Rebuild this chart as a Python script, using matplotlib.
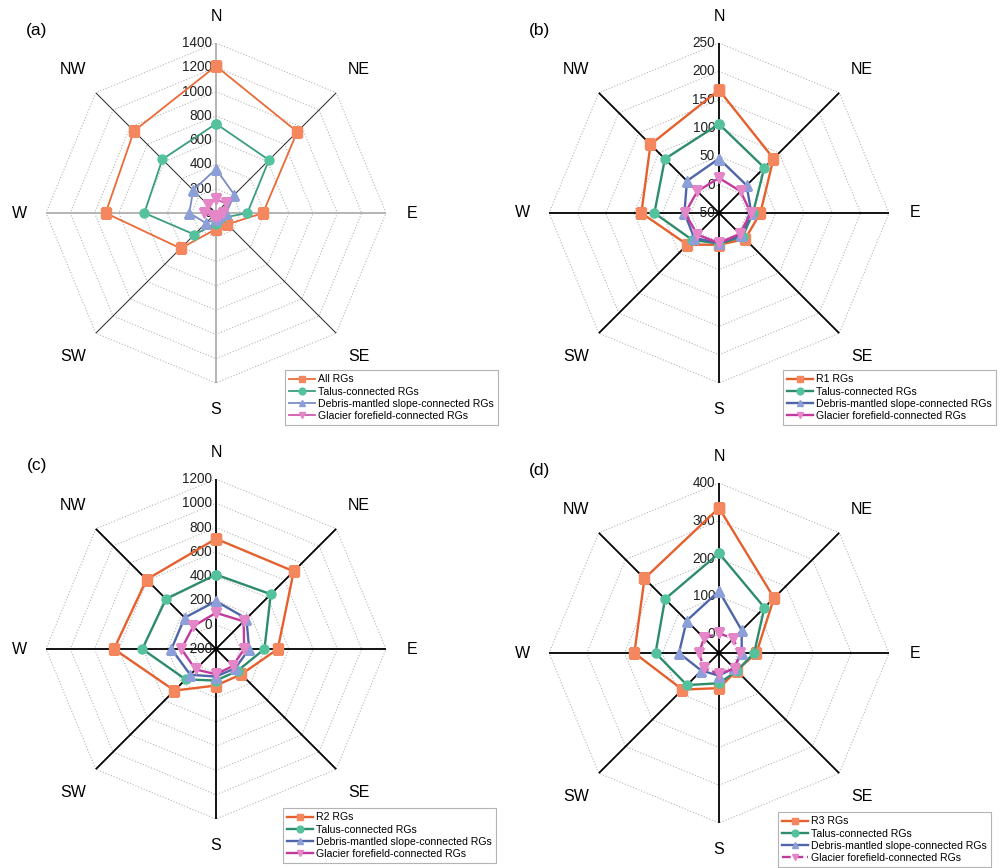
import numpy as np
import matplotlib
matplotlib.use('Agg')
import matplotlib.pyplot as plt
from matplotlib.transforms import offset_copy

plt.rcParams['font.family'] = ['Liberation Sans', 'DejaVu Sans']

directions = ['N', 'NE', 'E', 'SE', 'S', 'SW', 'W', 'NW']

# (a) all rock glaciers
a_all = [1210, 946, 387, 132, 132, 412, 909, 955]
a_talus = [735, 617, 258, 60, 88, 251, 590, 625]
a_debris = [362, 213, 85, 40, 50, 117, 220, 266]
a_glacier = [112, 113, 60, 30, 30, 35, 102, 89]

# (b) R1
b_all = [167, 86, 23, 15, 6, 29, 87, 121]
b_talus = [107, 63, 10, 9, 4, 17, 64, 85]
b_debris = [46, 19, 7, 6, 3, 12, 11, 30]
b_glacier = [12, 4, 6, 2, 3, 4, 10, 4]

# (c) R2
c_all = [708, 705, 309, 95, 101, 284, 640, 609]
c_talus = [413, 438, 199, 53, 60, 154, 407, 382]
c_debris = [194, 154, 73, 24, 27, 100, 167, 165]
c_glacier = [98, 122, 32, -3, 8, 38, 85, 65]

# (d) R3
d_all = [334, 156, 49, 16, 43, 87, 174, 229]
d_talus = [214, 120, 43, 17, 30, 70, 118, 152]
d_debris = [114, 35, 10, 6, 10, 16, 56, 71]
d_glacier = [3, 3, 5, 9, 5, 7, 3, 6]

panels = [
    dict(tag='(a)', center=(216, 213), rmin=0, rmax=1400, rings=list(range(0, 1401, 200)),
         labels=list(range(0, 1401, 200)), first='All RGs',
         series=[a_all, a_talus, a_debris, a_glacier], legend=(285, 370), light=True),
    dict(tag='(b)', center=(719, 213), rmin=-50, rmax=250, rings=list(range(-50, 251, 50)),
         labels=list(range(-50, 251, 50)), first='R1 RGs',
         series=[b_all, b_talus, b_debris, b_glacier], legend=(783, 370), light=False),
    dict(tag='(c)', center=(216, 649), rmin=-200, rmax=1200, rings=list(range(-200, 1201, 200)),
         labels=list(range(-200, 1201, 200)), first='R2 RGs',
         series=[c_all, c_talus, c_debris, c_glacier], legend=(283, 808), light=False),
    dict(tag='(d)', center=(719, 653), rmin=-50, rmax=400, rings=list(range(0, 401, 100)),
         labels=list(range(0, 401, 100)), first='R3 RGs',
         series=[d_all, d_talus, d_debris, d_glacier], legend=(778, 812), light=False,
         dashed=True),
]

names = ['Talus-connected RGs', 'Debris-mantled slope-connected RGs',
         'Glacier forefield-connected RGs']
line_cols = ['#E5602C', '#2E8C6C', '#4F65A8', '#C23A9C']
line_cols_light = ['#EA6A38', '#3A9E7E', '#7D8DC2', '#D05AAE']
marker_cols = ['#F4875E', '#55C29E', '#8C9FD8', '#E486C8']
markers = ['s', 'o', '^', 'v']

W, H = 1000, 868
R = 170
fig = plt.figure(figsize=(W / 100, H / 100), dpi=100)

theta = np.deg2rad(np.arange(8) * 45)
theta_c = np.append(theta, theta[0])

for p in panels:
    cx, cy = p['center']
    rect = [(cx - R) / W, 1 - (cy + R) / H, 2 * R / W, 2 * R / H]
    ax = fig.add_axes(rect, projection='polar')
    ax.set_theta_zero_location('N')
    ax.set_theta_direction(-1)
    ax.set_ylim(p['rmin'], p['rmax'])
    ax.grid(False)
    ax.spines['polar'].set_visible(False)
    ax.set_xticks([])
    ax.set_yticks([])
    ax.patch.set_visible(False)

    # polygon rings
    for r in p['rings']:
        if r == p['rmin']:
            continue
        ax.plot(theta_c, [r] * 9, ls=':', color='#B5B5B5', lw=0.8, zorder=1)

    # spokes
    for i, t in enumerate(theta):
        if p['light'] and i % 2 == 0:
            ax.plot([t, t], [p['rmin'], p['rmax']], color='#A8A8A8', lw=1.2, zorder=2)
        elif p['light']:
            ax.plot([t, t], [p['rmin'], p['rmax']], color='#222222', lw=0.7, zorder=2)
        else:
            ax.plot([t, t], [p['rmin'], p['rmax']], color='black', lw=1.3, zorder=2)

    # radial tick labels
    tr = offset_copy(ax.transData, fig=fig, x=-4, y=0, units='dots')
    for v in p['labels']:
        ax.text(0, v, str(v), transform=tr, ha='right', va='center',
                fontsize=9.8, color='#222222', zorder=3)

    # direction labels
    span = p['rmax'] - p['rmin']
    for i, (t, d) in enumerate(zip(theta, directions)):
        k = 1.155 if i % 2 == 0 else 1.19
        ax.text(t, p['rmin'] + k * span, d, ha='center', va='center', fontsize=11.5)

    # data
    labels = [p['first']] + names
    cols = line_cols_light if p['light'] else line_cols
    lw = 1.3 if p['light'] else 1.7
    for j, vals in enumerate(p['series']):
        ls = '--' if (j == 3 and p.get('dashed')) else '-'
        ax.plot(theta_c, vals + vals[:1], color=cols[j], lw=lw, ls=ls,
                marker=markers[j], markersize=6.5, markerfacecolor=marker_cols[j],
                markeredgecolor=marker_cols[j], label=labels[j], zorder=5 + j)

    lx, ly = p['legend']
    leg = ax.legend(loc='upper left', bbox_to_anchor=(lx / W, 1 - ly / H),
                    bbox_transform=fig.transFigure, fontsize=7.6, frameon=True,
                    fancybox=False, edgecolor='#A0A0A0', borderpad=0.4,
                    labelspacing=0.22, handlelength=2.4, handletextpad=0.3,
                    borderaxespad=0, markerscale=0.75)
    leg.get_frame().set_linewidth(0.8)

    fig.text((cx - 179) / W, 1 - (cy - 183) / H, p['tag'], fontsize=12.5,
             ha='center', va='center')

fig.savefig('out.png', dpi=100)
